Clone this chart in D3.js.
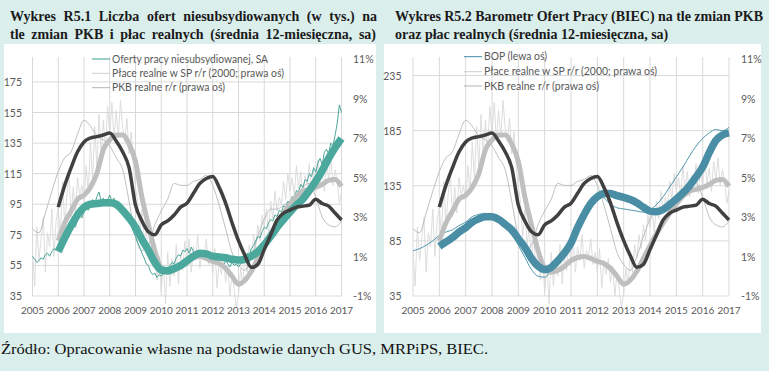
<!DOCTYPE html>
<html>
<head>
<meta charset="utf-8">
<script src="https://cdn.jsdelivr.net/npm/d3@7"></script>
<style>
  body { margin: 0; background: #daeeec; }
  svg { display: block; }
</style>
</head>
<body>
<div id="viz"></div>
<script>
// ---- data ----
const yearTicks = [2005, 2006, 2007, 2008, 2009, 2010, 2011, 2012, 2013, 2014, 2015, 2016, 2017];
const offersTicks = [35, 55, 75, 95, 115, 135, 155, 175];
const bopTicks = [35, 85, 135, 185, 235];
const pctTicks = [-1, 1, 3, 5, 7, 9, 11];

// monthly, Jan 2005 .. Jan 2017
const offersRaw = [
  61, 59, 57, 58, 60, 59, 62, 63, 61, 64, 66, 65,
  67, 70, 68, 73, 76, 74, 79, 82, 80, 85, 88, 86,
  90, 93, 91, 96, 98, 95, 100, 103, 97, 99, 96, 98,
  101, 97, 99, 95, 96, 92, 93, 88, 89, 84, 81, 77,
  74, 70, 67, 63, 60, 56, 55, 51, 49, 50, 47, 49,
  48, 50, 53, 52, 55, 57, 56, 60, 62, 61, 65, 64,
  66, 63, 67, 64, 62, 65, 63, 60, 62, 59, 61, 58,
  57, 59, 58, 56, 57, 55, 58, 56, 54, 57, 55, 56,
  54, 56, 58, 60, 63, 62, 66, 68, 71, 74, 73, 77,
  80, 79, 83, 85, 84, 88, 87, 91, 90, 94, 93, 97,
  96, 100, 99, 104, 103, 108, 106, 111, 110, 115, 113, 119,
  116, 122, 125, 121, 129, 131, 128, 135, 133, 140, 148, 160,
  155
];
const wagesRaw = [
  1.2, -0.5, 2.5, 0.8, 1.9, 3.0, 0.2, 2.2, 1.5, 3.4, 1.0, 2.8,
  3.5, 2.0, 4.8, 2.6, 4.1, 5.2, 3.0, 4.5, 3.2, 5.0, 4.0, 4.6,
  3.8, 5.6, 4.2, 6.8, 4.9, 7.6, 5.5, 8.2, 6.1, 7.9, 6.4, 8.6,
  7.2, 8.8, 6.9, 8.4, 7.0, 8.9, 7.5, 6.8, 8.0, 6.2, 7.3, 5.6,
  4.5, 3.8, 2.0, 3.4, 1.6, 2.5, 0.9, 2.0, 0.5, 1.4, -0.2, 1.0,
  -0.8, 0.6, -1.4, 1.2, -0.5, 0.9, 0.0, 1.6, -0.4, 1.1, 0.3, 1.8,
  0.5, 1.9, 0.2, 1.5, 0.8, 2.1, 0.4, 1.3, 1.0, 1.9, 0.6, 1.2,
  0.2, 1.4, -0.6, 0.8, 0.1, 0.9, -0.3, 0.5, -1.0, 0.2, -0.7, -1.6,
  -0.9, 0.4, -0.4, 1.2, 0.2, 1.6, 0.9, 2.1, 1.4, 2.6, 1.8, 3.1,
  2.5, 3.4, 2.2, 3.8, 2.9, 4.3, 3.3, 4.0, 3.6, 4.8, 3.9, 5.2,
  4.3, 5.0, 4.1, 5.6, 4.4, 5.3, 4.0, 5.1, 4.6, 5.7, 4.2, 5.4,
  4.5, 5.9, 4.7, 5.5, 4.3, 5.8, 4.9, 6.0, 4.6, 5.4, 4.8, 3.7,
  4.3
];

// quarterly, 2005 Q1 .. 2017 Q1
const gdpRaw = [
  2.4, 2.2, 3.2, 4.3,
  5.3, 6.0, 6.3, 7.2,
  7.9, 7.6, 7.1, 6.9,
  6.6, 6.0, 5.4, 3.8,
  2.0, 1.3, 1.6, 2.6,
  3.3, 3.9, 4.7, 4.6,
  4.6, 4.8, 4.9, 5.1,
  4.6, 3.6, 2.4, 1.2,
  0.6, 0.3, 1.0, 2.0,
  2.9, 3.4, 3.4, 3.6,
  3.8, 4.1, 4.5, 4.7,
  4.0, 3.0, 2.6, 2.5,
  2.8
];
const bopRaw = [
  76, 78, 81, 85,
  90, 93, 95, 99,
  102, 107, 109, 110,
  107, 102, 98, 92,
  81, 70, 59, 53,
  52, 58, 65, 76,
  89, 103, 112, 120,
  126, 124, 118, 115,
  114, 113, 112, 111,
  113, 118, 125, 134,
  143, 152, 162, 171,
  178, 183, 186, 185,
  188
];

// 12-month averages, quarterly, 2006 Q1 .. 2017 Q1
const offersAvg = [
  64, 73, 81, 88,
  93, 95, 95.5, 96,
  96, 95, 91, 86,
  80, 72, 65, 57,
  52, 51.5, 53, 55,
  58, 61, 63, 62.5,
  61, 60.5, 60, 59,
  58.5, 59, 61, 64,
  68.5, 74, 80, 85,
  90, 94.5, 98.5, 104,
  110, 117, 125, 132,
  138
];
const wagesAvg = [
  1.8, 2.7, 3.3, 3.9,
  4.1, 4.5, 5.2, 6.4,
  6.9, 7.15, 7.15, 6.7,
  5.8, 4.0, 2.6, 1.3,
  0.4, 0.2, 0.3, 0.5,
  0.8, 0.95, 1.0, 0.9,
  0.75, 0.65, 0.4, 0.0,
  -0.4, -0.2, 0.25, 0.9,
  1.55, 2.15, 2.7, 3.2,
  3.65, 4.05, 4.3, 4.4,
  4.5, 4.65, 4.85, 4.9,
  4.55
];
const gdpAvg = [
  3.5, 4.6, 5.5, 6.3,
  6.8, 7.0, 7.07, 7.15,
  7.25, 6.85, 6.3, 5.5,
  3.6, 2.8, 2.25, 2.1,
  2.6, 2.8, 3.1, 3.5,
  3.7, 4.2, 4.7, 4.95,
  5.05, 4.5, 3.7, 2.7,
  1.8, 1.05, 0.45, 0.6,
  1.35, 2.1, 2.85, 3.2,
  3.35, 3.5, 3.55, 3.6,
  3.9, 3.68, 3.55, 3.2,
  2.85
];
const bopAvg = [
  80, 84, 88, 93,
  97, 102, 105, 107,
  107, 104.5, 100, 95,
  87, 79, 69, 62,
  59, 61, 67, 74,
  83, 97, 109, 119,
  125, 128, 128, 126,
  124.5, 122.5, 119.5, 115.5,
  112, 111.5, 113.5, 118,
  123, 128.5, 135, 143,
  152, 165, 176, 181,
  183
];

const legendA = ["Oferty pracy niesubsydiowanej, SA", "Płace realne w SP r/r (2000; prawa oś)", "PKB realne r/r (prawa oś)"];
const legendB = ["BOP (lewa oś)", "Płace realne w SP r/r (2000; prawa oś)", "PKB realne r/r (prawa oś)"];

// ---- drawing ----
const width = 769, height = 371;
const svg = d3.select("#viz").append("svg").attr("width", width).attr("height", height);

const monthly = arr => arr.map((v, i) => ({ t: 2005 + i / 12, v }));
const quarterly = (arr, start) => arr.map((v, i) => ({ t: start + i / 4, v }));

const sansFont = "Lato, 'Open Sans', sans-serif";
const serifFont = "'Liberation Serif', 'DejaVu Serif', serif";

svg.append("rect").attr("x", 4).attr("y", 44).attr("width", 372).attr("height", 289).attr("fill", "#fff");
svg.append("rect").attr("x", 384).attr("y", 44).attr("width", 377).attr("height", 289).attr("fill", "#fff");

function justifyLine(text, x0, x1, y, stretch) {
  const g = svg.append("g")
    .attr("font-family", serifFont).attr("font-weight", "bold")
    .attr("font-size", 14).attr("fill", "#1a1a1a");
  const words = text.split(" ");
  const nodes = words.map(w => g.append("text").attr("y", y).text(w));
  const widths = nodes.map(n => n.node().getComputedTextLength());
  const gap = stretch ? (x1 - x0 - d3.sum(widths)) / (words.length - 1) : 3.5;
  let x = x0;
  nodes.forEach((n, i) => { n.attr("x", x); x += widths[i] + gap; });
}

justifyLine("Wykres R5.1 Liczba ofert niesubsydiowanych (w tys.) na", 10, 377, 21, true);
justifyLine("tle zmian PKB i płac realnych (średnia 12-miesięczna, sa)", 10, 376, 39, true);
justifyLine("Wykres R5.2 Barometr Ofert Pracy (BIEC) na tle zmian PKB", 395, 763, 21, true);
justifyLine("oraz płac realnych (średnia 12-miesięczna, sa)", 395, 625, 39, false);

svg.append("text")
  .attr("x", 1).attr("y", 354)
  .attr("font-family", serifFont).attr("font-size", 15).attr("fill", "#111")
  .attr("textLength", 487).attr("lengthAdjust", "spacingAndGlyphs")
  .text("Źródło: Opracowanie własne na podstawie danych GUS, MRPiPS, BIEC.");

function drawChart(cfg) {
  const top = 59, bottom = 296;
  const x = d3.scaleLinear().domain([2005, 2017]).range([cfg.x0, cfg.x1]);
  const yL = d3.scaleLinear().domain(cfg.leftDomain).range([bottom, top]);
  const yR = d3.scaleLinear().domain([-1, 11]).range([bottom, top]);
  const g = svg.append("g");

  // gridlines
  g.selectAll(".hg").data(cfg.leftTicks).enter().append("line")
    .attr("x1", cfg.x0).attr("x2", cfg.x1)
    .attr("y1", d => yL(d)).attr("y2", d => yL(d))
    .attr("stroke", "#d9d9d9").attr("stroke-width", 1);
  g.selectAll(".vg").data(yearTicks).enter().append("line")
    .attr("x1", d => x(d)).attr("x2", d => x(d))
    .attr("y1", top - 2).attr("y2", bottom)
    .attr("stroke", "#d9d9d9").attr("stroke-width", 1);

  const lineL = d3.line().x(d => x(d.t)).y(d => yL(d.v));
  const lineR = d3.line().x(d => x(d.t)).y(d => yR(d.v));
  const smoothL = d3.line().x(d => x(d.t)).y(d => yL(d.v)).curve(d3.curveMonotoneX);
  const smoothR = d3.line().x(d => x(d.t)).y(d => yR(d.v)).curve(d3.curveMonotoneX);

  const path = (d, gen, color, w) => g.append("path").datum(d).attr("d", gen)
    .attr("fill", "none").attr("stroke", color).attr("stroke-width", w)
    .attr("stroke-linejoin", "round");

  // thin raw series
  path(monthly(wagesRaw), lineR, "#d9d9d9", 0.9);
  path(quarterly(gdpRaw, 2005), smoothR, "#b8b8b8", 0.9);
  path(cfg.raw, cfg.rawGen === "smooth" ? smoothL : lineL, cfg.thinColor, 0.9);

  // thick 12-month averages
  path(quarterly(wagesAvg, 2006), smoothR, "#bfbfbf", 5);
  path(quarterly(cfg.avg, 2006), smoothL, cfg.thickColor, 7.5);
  path(quarterly(gdpAvg, 2006), smoothR, "#404040", 3.5);

  // axis labels
  const lab = g.append("g").attr("font-family", sansFont).attr("font-size", 10.5).attr("fill", "#595959");
  lab.selectAll(".yl").data(cfg.leftTicks).enter().append("text")
    .attr("x", cfg.leftLabelX).attr("y", d => yL(d) + 4)
    .attr("text-anchor", "end").text(d => d);
  lab.selectAll(".yr").data(pctTicks).enter().append("text")
    .attr("x", cfg.rightLabelX).attr("y", d => yR(d) + 4)
    .text(d => d + "%");
  lab.selectAll(".xl").data(yearTicks).enter().append("text")
    .attr("x", d => x(d)).attr("y", 314)
    .attr("font-size", 10)
    .attr("text-anchor", "middle").text(d => d);

  // legend
  const legColors = [cfg.thinColor, "#cfcfcf", "#b3b3b3"];
  cfg.legend.forEach((name, i) => {
    const yy = cfg.legendY[i];
    g.append("line").attr("x1", cfg.legX).attr("x2", cfg.legX + 18)
      .attr("y1", yy).attr("y2", yy)
      .attr("stroke", legColors[i]).attr("stroke-width", 1);
    lab.append("text").attr("x", cfg.legX + 20).attr("y", yy + 3.5)
      .attr("textLength", cfg.legendW[i]).attr("lengthAdjust", "spacingAndGlyphs")
      .text(name);
  });
}

drawChart({
  x0: 32.5, x1: 341.5, leftDomain: [35, 190], leftTicks: offersTicks,
  leftLabelX: 22, rightLabelX: 353,
  raw: monthly(offersRaw), rawGen: "line", avg: offersAvg,
  thinColor: "#3a9d8f", thickColor: "#4ba89d",
  legend: legendA, legX: 92, legendY: [59, 73.3, 87.7], legendW: [156, 172, 113]
});

drawChart({
  x0: 413, x1: 729, leftDomain: [35, 250], leftTicks: bopTicks,
  leftLabelX: 401.5, rightLabelX: 741,
  raw: quarterly(bopRaw, 2005), rawGen: "smooth", avg: bopAvg,
  thinColor: "#3e8ca3", thickColor: "#4a8ea6",
  legend: legendB, legX: 464, legendY: [56.7, 71.7, 86], legendW: [63, 173, 115]
});
</script>
</body>
</html>
